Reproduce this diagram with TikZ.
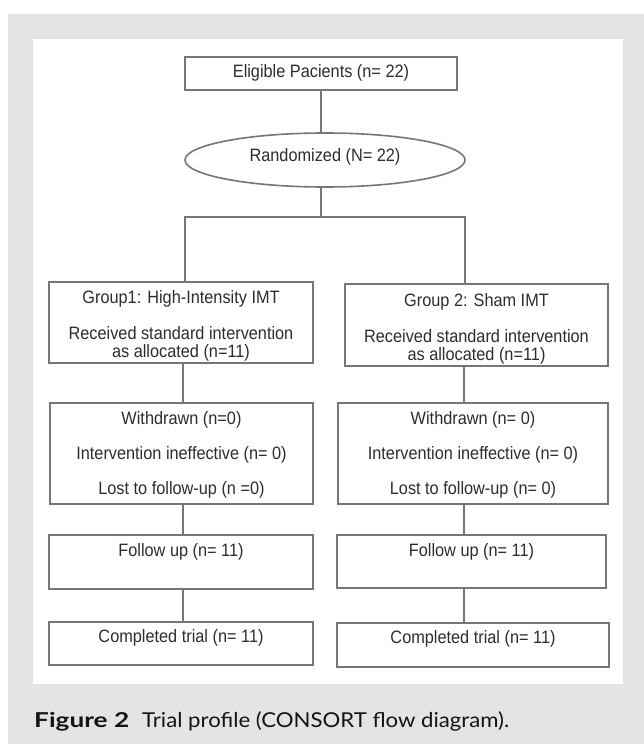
\documentclass[tikz,border=0pt]{standalone}
\usepackage{graphicx}
\usepackage{fontspec}
\setmainfont{Liberation Sans}
\newfontfamily\capfont{Lato}
\usetikzlibrary{shapes.geometric}
\definecolor{panelgray}{RGB}{228,228,228}
\definecolor{linegray}{RGB}{118,118,118}
\definecolor{txtgray}{RGB}{45,45,45}
\definecolor{capblack}{RGB}{20,20,20}
\newcommand{\tallt}[1]{\scalebox{1}[1.1]{#1}}
\begin{document}
\begin{tikzpicture}[x=1pt,y=-1pt,
  box/.style={draw=linegray, line width=1.6pt, fill=white, rectangle, inner sep=0pt},
  oval/.style={draw=linegray, line width=1.6pt, fill=white, ellipse, inner sep=0pt},
  lbl/.style={text=txtgray, font=\fontsize{16.3}{19}\selectfont, inner sep=0pt, anchor=center},
  conn/.style={draw=linegray, line width=1.6pt}]
\useasboundingbox (0,0) rectangle (644,744);
\fill[white] (0,0) rectangle (644,744);
\fill[panelgray] (8,14) rectangle (644,744);
\fill[white] (33,39) rectangle (623,684);

% nodes
\node[box, minimum width=272pt, minimum height=33pt] (elig) at (321,73.5) {};
\node[oval, minimum width=280pt, minimum height=54pt] (rand) at (325,160) {};
\node[box, minimum width=264pt, minimum height=81pt] (g1) at (181,322.5) {};
\node[box, minimum width=263pt, minimum height=82pt] (g2) at (476.5,325) {};
\node[box, minimum width=263pt, minimum height=101pt] (w1) at (181.5,453.5) {};
\node[box, minimum width=270pt, minimum height=101pt] (w2) at (473,453.5) {};
\node[box, minimum width=264pt, minimum height=54pt] (f1) at (181,562) {};
\node[box, minimum width=269pt, minimum height=53pt] (f2) at (471.5,561.5) {};
\node[box, minimum width=264pt, minimum height=43pt] (c1) at (181,643.5) {};
\node[box, minimum width=272pt, minimum height=44pt] (c2) at (473,645) {};

% labels
\node[lbl] (teli) at (321,73) {\tallt{Eligible Pacients (n= 22)}};
\node[lbl] (trand) at (325,157) {\tallt{Randomized (N= 22)}};
\node[lbl] (tg1a) at (181,299) {\tallt{Group1: High-Intensity IMT}};
\node[lbl] (tg1b) at (181,333) {\tallt{Received standard intervention}};
\node[lbl] (tg1c) at (181,353) {\tallt{as allocated (n=11)}};
\node[lbl] (tg2a) at (476.5,302) {\tallt{Group 2: Sham IMT}};
\node[lbl] (tg2b) at (476.5,336) {\tallt{Received standard intervention}};
\node[lbl] (tg2c) at (476.5,356) {\tallt{as allocated (n=11)}};
\node[lbl] (tw1a) at (181.5,420) {\tallt{Withdrawn (n=0)}};
\node[lbl] (tw1b) at (181.5,455) {\tallt{Intervention ineffective (n= 0)}};
\node[lbl] (tw1c) at (181.5,490) {\tallt{Lost to follow-up (n =0)}};
\node[lbl] (tw2a) at (473,420) {\tallt{Withdrawn (n= 0)}};
\node[lbl] (tw2b) at (473,455) {\tallt{Intervention ineffective (n= 0)}};
\node[lbl] (tw2c) at (473,490) {\tallt{Lost to follow-up (n= 0)}};
\node[lbl] (tf1) at (181,552) {\tallt{Follow up (n= 11)}};
\node[lbl] (tf2) at (471.5,552) {\tallt{Follow up (n= 11)}};
\node[lbl] (tc1) at (181,638) {\tallt{Completed trial (n= 11)}};
\node[lbl] (tc2) at (473,639) {\tallt{Completed trial (n= 11)}};

% connectors
\coordinate (lx) at (183,0);
\coordinate (rx) at (464,0);
\coordinate (bl) at (185,217);
\coordinate (br) at (465,217);
\draw[conn] (elig.south) -- (elig.south |- rand.north);
\draw[conn] (elig.south |- rand.south) -- (elig.south |- bl);
\draw[conn] (bl |- g1.north) -- (bl) -- (br) -- (br |- g2.north);
\draw[conn] (g1.south -| lx) -- (w1.north -| lx);
\draw[conn] (w1.south -| lx) -- (f1.north -| lx);
\draw[conn] (f1.south -| lx) -- (c1.north -| lx);
\draw[conn] (g2.south -| rx) -- (w2.north -| rx);
\draw[conn] (w2.south -| rx) -- (f2.north -| rx);
\draw[conn] (f2.south -| rx) -- (c2.north -| rx);

% caption
\node[anchor=base west, inner sep=0pt, text=capblack, font=\capfont\fontsize{20.5}{24}\selectfont] (cap) at (34,727)
  {\resizebox{95pt}{\height}{\textbf{Figure 2}}\hspace{13pt}\resizebox{367pt}{\height}{Trial profile (CONSORT flow diagram).}};
\end{tikzpicture}
\end{document}
